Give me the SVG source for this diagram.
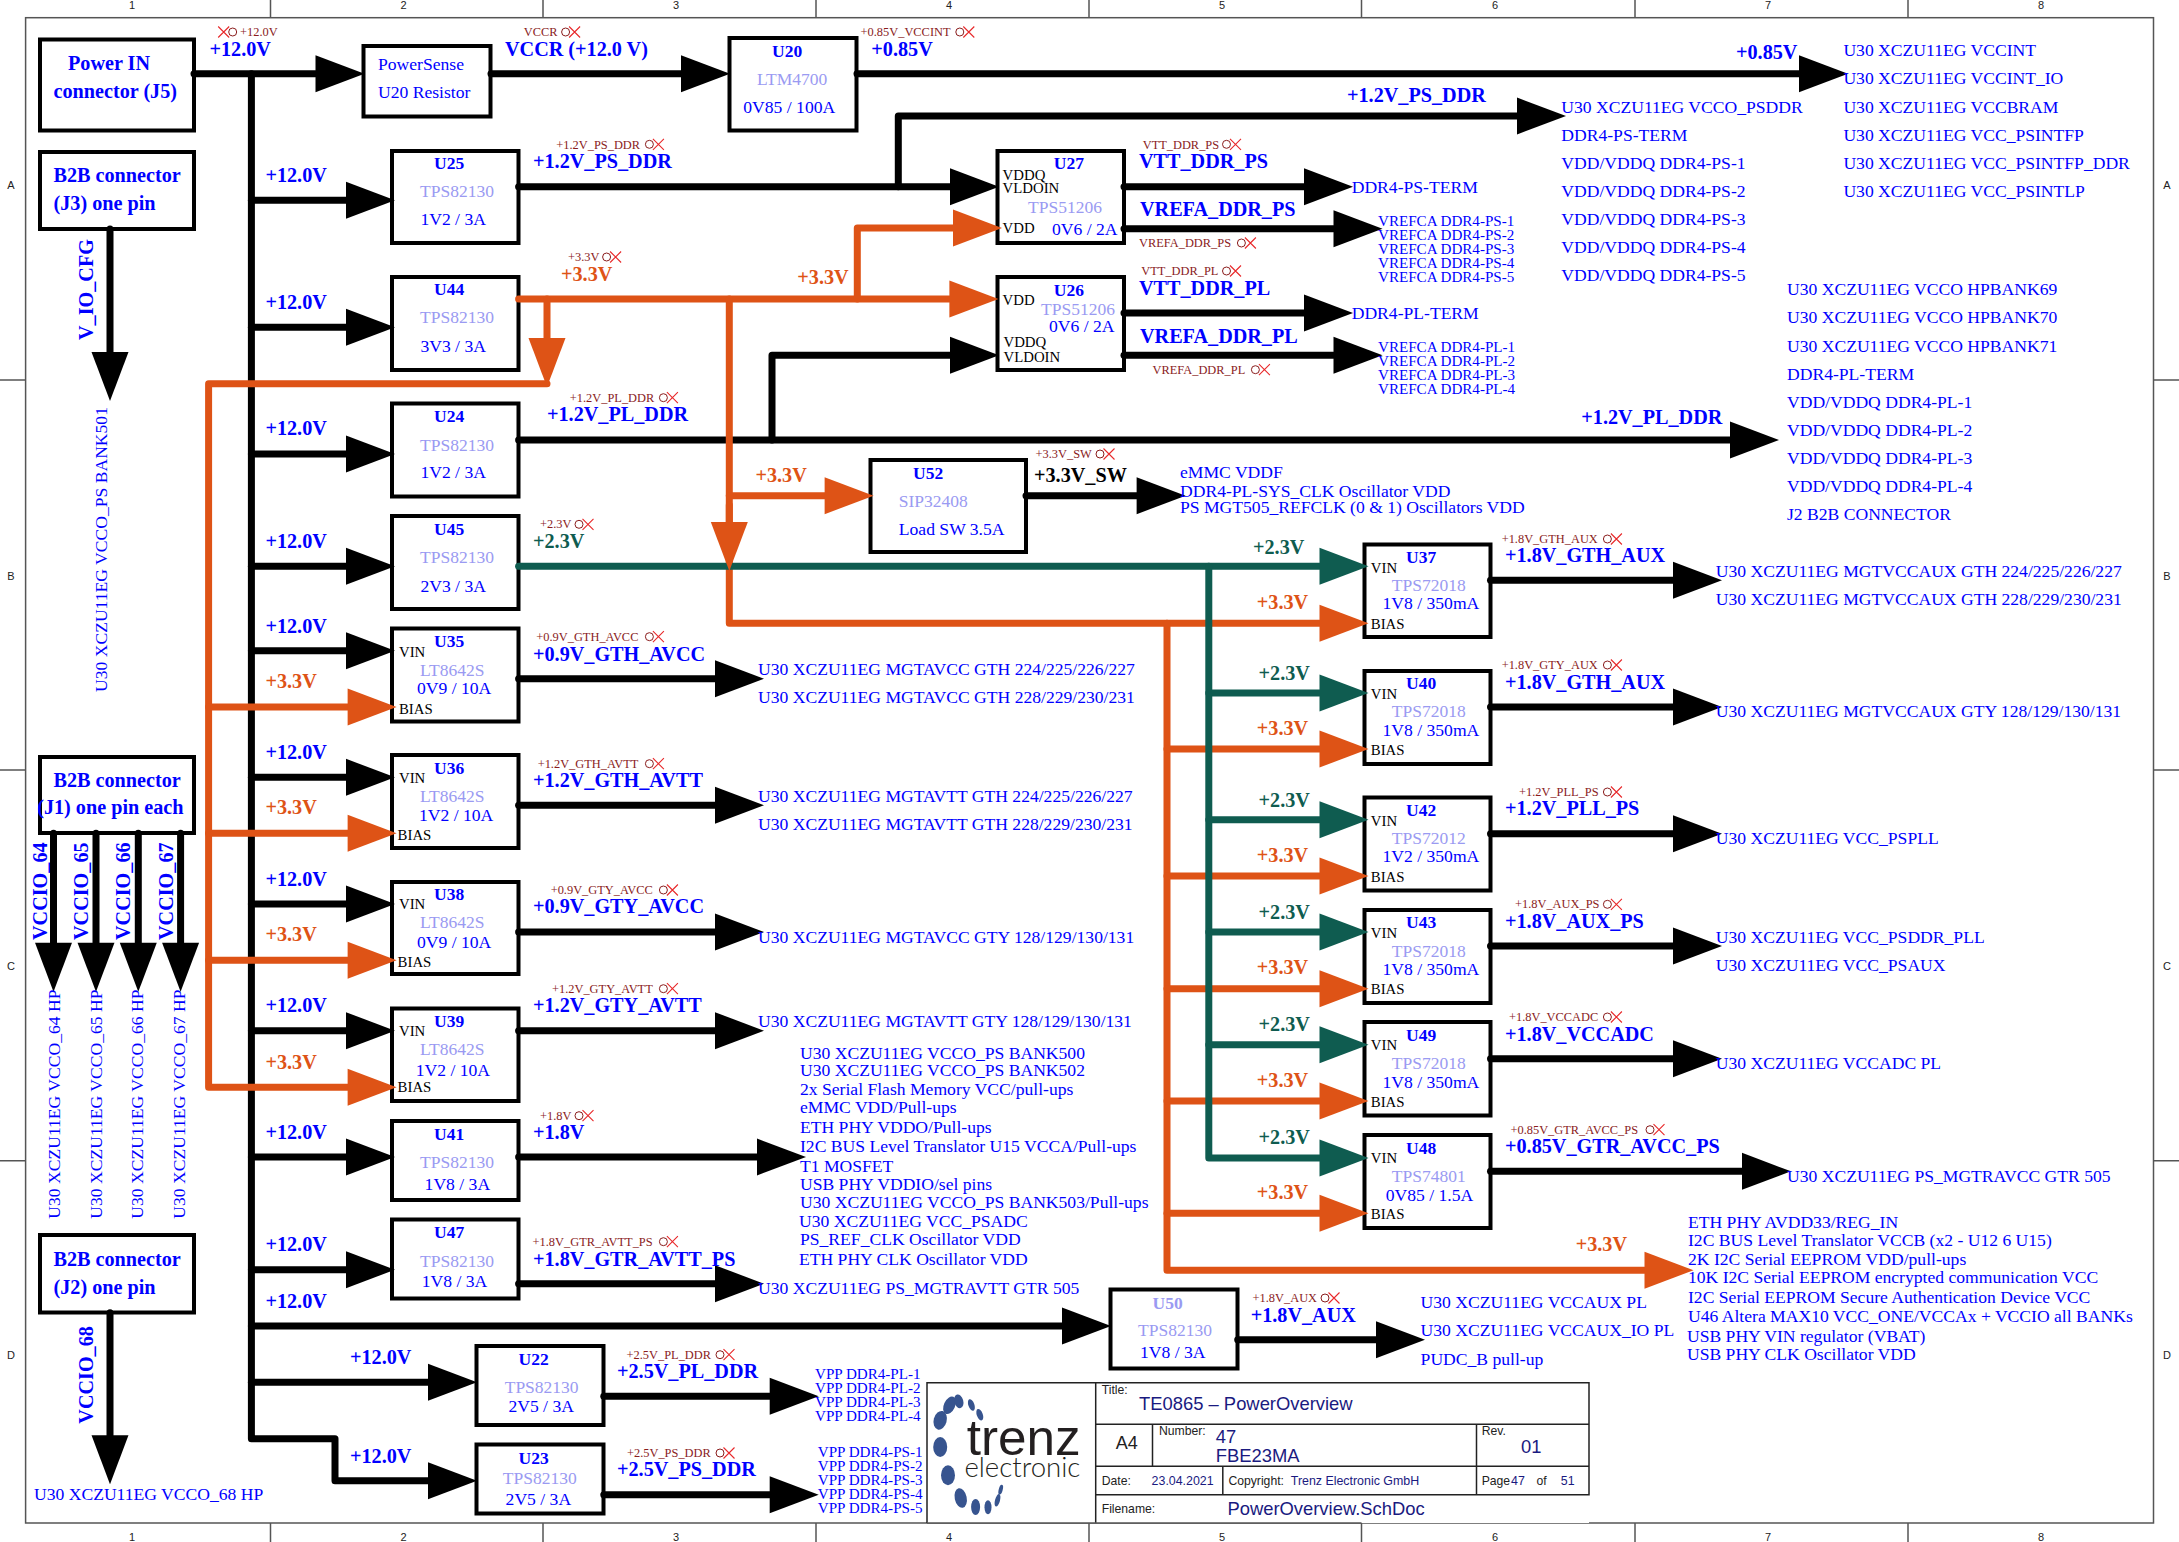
<svg xmlns="http://www.w3.org/2000/svg" xmlns:xlink="http://www.w3.org/1999/xlink" width="2179" height="1542" viewBox="0 0 2179 1542">
<style>
text{font-family:"Liberation Serif",serif;white-space:pre}
.box{fill:#fff;stroke:#000;stroke-width:4}
.h{font-size:20.2px;font-weight:bold;fill:#00f}
.or{fill:#de5316}
.gr{fill:#0f5c50}
.bk{fill:#000}
.id{font-size:17.5px;font-weight:bold;fill:#00f}
.pn{font-size:17.5px;fill:#9a9af2}
.lt{fill:#9a9af2}
.t{font-size:17.6px;fill:#00f}
.s{font-size:15.1px;fill:#00f}
.pin{font-size:14.8px;fill:#000}
.red{font-size:12.4px;fill:#8a1c1c}
.w{fill:none;stroke-width:7;stroke-linecap:round;stroke-linejoin:round}
.wb{stroke:#000}
.wo{stroke:#de5316}
.wg{stroke:#0f5c50}
.fr{fill:none;stroke:#555;stroke-width:1.5}
.tb{fill:none;stroke:#222;stroke-width:1.5}
.sn{font-family:"Liberation Sans",sans-serif;font-size:12.2px;fill:#222}
.nv{font-family:"Liberation Sans",sans-serif;font-size:12.4px;fill:#1a1a80}
.nl{font-family:"Liberation Sans",sans-serif;font-size:18.4px;fill:#1a1a80}
.tk{font-family:"Liberation Sans",sans-serif;font-size:11px;fill:#222;text-anchor:middle}
.dot{fill:#37548f}
</style>
<defs>
<marker id="ab" markerUnits="userSpaceOnUse" markerWidth="50" markerHeight="38" viewBox="0 0 49 38" refX="0" refY="19" orient="auto"><path d="M0 .5L49 19L0 37.5Z" fill="#000"/></marker>
<marker id="ao" markerUnits="userSpaceOnUse" markerWidth="50" markerHeight="38" viewBox="0 0 49 38" refX="0" refY="19" orient="auto"><path d="M0 .5L49 19L0 37.5Z" fill="#de5316"/></marker>
<marker id="ag" markerUnits="userSpaceOnUse" markerWidth="50" markerHeight="38" viewBox="0 0 49 38" refX="0" refY="19" orient="auto"><path d="M0 .5L49 19L0 37.5Z" fill="#0f5c50"/></marker>
<g id="nc"><circle cx="0" cy="0" r="4" fill="none" stroke="#8a1c1c" stroke-width="1"/><path d="M3.5-5.5L14.5 5.5M3.5 5.5L14.5-5.5" stroke="#e8282a" stroke-width="1.1" fill="none"/></g>
</defs>
<rect width="2179" height="1542" fill="#fff"/>

<g id="frame">
<rect class="fr" x="25.6" y="17.7" width="2127.9" height="1505.3"/>
<path class="fr" d="M270.5 0V17.7M543 0V17.7M816 0V17.7M1089 0V17.7M1361.5 0V17.7M1635 0V17.7M1908 0V17.7M270.5 1523V1542M543 1523V1542M816 1523V1542M1089 1523V1542M1361.5 1523V1542M1635 1523V1542M1908 1523V1542M0 380H25.6M0 770H25.6M0 1160.7H25.6M2153.5 380H2179M2153.5 770H2179M2153.5 1160.7H2179"/>
<text class="tk" x="132" y="8.5">1</text><text class="tk" x="403.6" y="8.5">2</text><text class="tk" x="676" y="8.5">3</text><text class="tk" x="949" y="8.5">4</text><text class="tk" x="1222" y="8.5">5</text><text class="tk" x="1495" y="8.5">6</text><text class="tk" x="1768" y="8.5">7</text><text class="tk" x="2041" y="8.5">8</text>
<text class="tk" x="132" y="1541">1</text><text class="tk" x="403.6" y="1541">2</text><text class="tk" x="676" y="1541">3</text><text class="tk" x="949" y="1541">4</text><text class="tk" x="1222" y="1541">5</text><text class="tk" x="1495" y="1541">6</text><text class="tk" x="1768" y="1541">7</text><text class="tk" x="2041" y="1541">8</text>
<text class="tk" x="11" y="189">A</text><text class="tk" x="11" y="580">B</text><text class="tk" x="11" y="970">C</text><text class="tk" x="11" y="1359">D</text>
<text class="tk" x="2167" y="189">A</text><text class="tk" x="2167" y="580">B</text><text class="tk" x="2167" y="970">C</text><text class="tk" x="2167" y="1359">D</text>
</g>

<g id="J5"><rect class="box" x="40" y="39.5" width="154" height="91"/><text class="h" x="68" y="70">Power IN</text><text class="h" x="53.5" y="98">connector (J5)</text></g>
<g id="J3"><rect class="box" x="40" y="152" width="154" height="77"/><text class="h" x="53.5" y="181.7">B2B connector</text><text class="h" x="53.5" y="210">(J3) one pin</text></g>
<g id="J1"><rect class="box" x="40" y="757" width="154" height="76"/><text class="h" x="53.5" y="786.7">B2B connector</text><text class="h" x="37.2" y="814">(J1) one pin each</text></g>
<g id="J2"><rect class="box" x="40" y="1235" width="154" height="77.5"/><text class="h" x="53.5" y="1266.3">B2B connector</text><text class="h" x="53.5" y="1294.3">(J2) one pin</text></g>
<g id="PowerSense"><rect class="box" x="363.5" y="46" width="127" height="70.5"/><text class="t" x="378" y="70">PowerSense</text><text class="t" x="378" y="98.3">U20 Resistor</text></g>
<g id="U20"><rect class="box" x="729.5" y="38" width="127" height="92.5"/><text class="id" x="772" y="56.7">U20</text><text class="pn" x="757" y="84.7">LTM4700</text><text class="t" x="743.3" y="113.3">0V85 / 100A</text></g>
<g id="U25"><rect class="box" x="392" y="151" width="126.5" height="92"/><text class="id" x="434" y="169.3">U25</text><text class="pn" x="420" y="197.3">TPS82130</text><text class="t" x="420.4" y="225.3">1V2 / 3A</text></g>
<g id="U44"><rect class="box" x="392" y="277" width="126.5" height="93"/><text class="id" x="434" y="295">U44</text><text class="pn" x="420" y="323.3">TPS82130</text><text class="t" x="420.4" y="352.3">3V3 / 3A</text></g>
<g id="U24"><rect class="box" x="392" y="403.5" width="126.5" height="93"/><text class="id" x="434" y="422">U24</text><text class="pn" x="420" y="450.7">TPS82130</text><text class="t" x="420.4" y="478.3">1V2 / 3A</text></g>
<g id="U45"><rect class="box" x="392" y="516" width="126.5" height="93"/><text class="id" x="434" y="535.3">U45</text><text class="pn" x="420" y="563.3">TPS82130</text><text class="t" x="420.4" y="591.7">2V3 / 3A</text></g>
<g id="U35"><rect class="box" x="392" y="628.5" width="126.5" height="93"/><text class="id" x="434" y="647">U35</text><text class="pin" x="399" y="656.7">VIN</text><text class="pn" x="420" y="675.7">LT8642S</text><text class="t" x="417" y="694.3">0V9 / 10A</text><text class="pin" x="399" y="713.7">BIAS</text></g>
<g id="U36"><rect class="box" x="392" y="755" width="126.5" height="93"/><text class="id" x="434" y="774">U36</text><text class="pin" x="399" y="783.3">VIN</text><text class="pn" x="420" y="802.3">LT8642S</text><text class="t" x="419" y="821">1V2 / 10A</text><text class="pin" x="397.6" y="839.7">BIAS</text></g>
<g id="U38"><rect class="box" x="392" y="882" width="126.5" height="92"/><text class="id" x="434" y="900.3">U38</text><text class="pin" x="399" y="909.3">VIN</text><text class="pn" x="420" y="928.3">LT8642S</text><text class="t" x="417" y="948">0V9 / 10A</text><text class="pin" x="397.6" y="966.7">BIAS</text></g>
<g id="U39"><rect class="box" x="392" y="1008.5" width="126.5" height="92.5"/><text class="id" x="434" y="1026.7">U39</text><text class="pin" x="399" y="1036">VIN</text><text class="pn" x="420" y="1055.3">LT8642S</text><text class="t" x="415.7" y="1076.3">1V2 / 10A</text><text class="pin" x="397.6" y="1092.3">BIAS</text></g>
<g id="U41"><rect class="box" x="392" y="1121" width="126.5" height="79"/><text class="id" x="434" y="1140.3">U41</text><text class="pn" x="420" y="1168.3">TPS82130</text><text class="t" x="424.6" y="1190.3">1V8 / 3A</text></g>
<g id="U47"><rect class="box" x="392" y="1219.5" width="126.5" height="79"/><text class="id" x="434" y="1238.3">U47</text><text class="pn" x="420" y="1266.7">TPS82130</text><text class="t" x="421.8" y="1287.3">1V8 / 3A</text></g>
<g id="U22"><rect class="box" x="476.5" y="1346" width="127" height="79"/><text class="id" x="518.6" y="1365.3">U22</text><text class="pn" x="504.7" y="1393.3">TPS82130</text><text class="t" x="508.4" y="1412.3">2V5 / 3A</text></g>
<g id="U23"><rect class="box" x="476.5" y="1444.5" width="127" height="69"/><text class="id" x="518.6" y="1463.7">U23</text><text class="pn" x="502.8" y="1483.7">TPS82130</text><text class="t" x="505.6" y="1504.7">2V5 / 3A</text></g>
<g id="U50"><rect class="box" x="1110.5" y="1289.5" width="127" height="79"/><text class="id lt" style="fill:#9a9af2" x="1152.5" y="1308.7">U50</text><text class="pn" x="1138" y="1336.3">TPS82130</text><text class="t" x="1140" y="1358.3">1V8 / 3A</text></g>
<g id="U27"><rect class="box" x="997.5" y="151" width="126.5" height="92"/><text class="id" x="1053.8" y="169.3">U27</text><text class="pin" x="1002.6" y="179.7">VDDQ</text><text class="pin" x="1002.6" y="193.3">VLDOIN</text><text class="pn" x="1028" y="213.3">TPS51206</text><text class="pin" x="1002.6" y="233.3">VDD</text><text class="t" x="1052" y="234.7">0V6 / 2A</text></g>
<g id="U26"><rect class="box" x="997.5" y="277" width="126.5" height="93"/><text class="id" x="1053.8" y="295.7">U26</text><text class="pin" x="1002.6" y="305">VDD</text><text class="pn" x="1041" y="315.3">TPS51206</text><text class="t" x="1049" y="332">0V6 / 2A</text><text class="pin" x="1003.5" y="347.3">VDDQ</text><text class="pin" x="1003.5" y="361.7">VLDOIN</text></g>
<g id="U52"><rect class="box" x="870.5" y="460" width="155.5" height="92"/><text class="id" x="913" y="478.7">U52</text><text class="pn" x="898.8" y="506.7">SIP32408</text><text class="t" x="898.8" y="535">Load SW 3.5A</text></g>
<g id="U37"><rect class="box" x="1364.5" y="544.5" width="126" height="92.5"/><text class="id" x="1406" y="563">U37</text><text class="pin" x="1370.8" y="572.7">VIN</text><text class="pn" x="1391.8" y="591.3">TPS72018</text><text class="t" x="1382.5" y="609.3">1V8 / 350mA</text><text class="pin" x="1370.8" y="628.7">BIAS</text></g>
<g id="U40"><rect class="box" x="1364.5" y="671" width="126" height="93"/><text class="id" x="1406" y="689.3">U40</text><text class="pin" x="1370.8" y="698.7">VIN</text><text class="pn" x="1391.8" y="717.3">TPS72018</text><text class="t" x="1382.5" y="736.3">1V8 / 350mA</text><text class="pin" x="1370.8" y="755.3">BIAS</text></g>
<g id="U42"><rect class="box" x="1364.5" y="797.5" width="126" height="93"/><text class="id" x="1406" y="816">U42</text><text class="pin" x="1370.8" y="825.7">VIN</text><text class="pn" x="1391.8" y="844.3">TPS72012</text><text class="t" x="1382.5" y="862.3">1V2 / 350mA</text><text class="pin" x="1370.8" y="881.7">BIAS</text></g>
<g id="U43"><rect class="box" x="1364.5" y="910" width="126" height="93"/><text class="id" x="1406" y="928.3">U43</text><text class="pin" x="1370.8" y="938">VIN</text><text class="pn" x="1391.8" y="957">TPS72018</text><text class="t" x="1382.5" y="975.3">1V8 / 350mA</text><text class="pin" x="1370.8" y="994.3">BIAS</text></g>
<g id="U49"><rect class="box" x="1364.5" y="1022" width="126" height="93.5"/><text class="id" x="1406" y="1041">U49</text><text class="pin" x="1370.8" y="1050.3">VIN</text><text class="pn" x="1391.8" y="1069.3">TPS72018</text><text class="t" x="1382.5" y="1088">1V8 / 350mA</text><text class="pin" x="1370.8" y="1106.7">BIAS</text></g>
<g id="U48"><rect class="box" x="1364.5" y="1135" width="126" height="93"/><text class="id" x="1406" y="1154.3">U48</text><text class="pin" x="1370.8" y="1163.3">VIN</text><text class="pn" x="1391.8" y="1182.3">TPS74801</text><text class="t" x="1385.7" y="1201">0V85 / 1.5A</text><text class="pin" x="1370.8" y="1219.3">BIAS</text></g>

<g id="connectors">
<g class="w wb">
<path d="M251.4 73.7V1438.7H335V1480.7H428" marker-end="url(#ab)"/>
<path d="M194 73.7H315.5" marker-end="url(#ab)"/>
<path d="M491 73.7H681" marker-end="url(#ab)"/>
<path d="M857 73.7H1799" marker-end="url(#ab)"/>
<path d="M251.4 200.3H346" marker-end="url(#ab)"/>
<path d="M251.4 327.3H346" marker-end="url(#ab)"/>
<path d="M251.4 454H346" marker-end="url(#ab)"/>
<path d="M251.4 566.3H346" marker-end="url(#ab)"/>
<path d="M251.4 650.7H346" marker-end="url(#ab)"/>
<path d="M251.4 777.3H346" marker-end="url(#ab)"/>
<path d="M251.4 904H346" marker-end="url(#ab)"/>
<path d="M251.4 1030.7H346" marker-end="url(#ab)"/>
<path d="M251.4 1157H346" marker-end="url(#ab)"/>
<path d="M251.4 1269.7H346" marker-end="url(#ab)"/>
<path d="M251.4 1326H1062" marker-end="url(#ab)"/>
<path d="M251.4 1382.3H428" marker-end="url(#ab)"/>
<path d="M518.6 186.7H950" marker-end="url(#ab)"/>
<path d="M898.3 186.7V116H1517" marker-end="url(#ab)"/>
<path d="M518.6 440H1730" marker-end="url(#ab)"/>
<path d="M772 440V355.3H950" marker-end="url(#ab)"/>
<path d="M1124 186.7H1304" marker-end="url(#ab)"/>
<path d="M1124 228.7H1333.5" marker-end="url(#ab)"/>
<path d="M1124 313H1304" marker-end="url(#ab)"/>
<path d="M1124 355.3H1333.5" marker-end="url(#ab)"/>
<path d="M1026 495.7H1136.6" marker-end="url(#ab)"/>
<path d="M518.6 678.7H715" marker-end="url(#ab)"/>
<path d="M518.6 805.3H715" marker-end="url(#ab)"/>
<path d="M518.6 932H715" marker-end="url(#ab)"/>
<path d="M518.6 1030.7H715" marker-end="url(#ab)"/>
<path d="M518.6 1157H757" marker-end="url(#ab)"/>
<path d="M518.6 1283.7H715" marker-end="url(#ab)"/>
<path d="M603.8 1396.3H769.7" marker-end="url(#ab)"/>
<path d="M603.8 1494.7H769.7" marker-end="url(#ab)"/>
<path d="M1237.7 1339.7H1376" marker-end="url(#ab)"/>
<path d="M1490.5 580.3H1673" marker-end="url(#ab)"/>
<path d="M1490.5 707H1673" marker-end="url(#ab)"/>
<path d="M1490.5 833.7H1673" marker-end="url(#ab)"/>
<path d="M1490.5 946H1673" marker-end="url(#ab)"/>
<path d="M1490.5 1058.7H1673" marker-end="url(#ab)"/>
<path d="M1490.5 1171.3H1742" marker-end="url(#ab)"/>
<path d="M110 229V352" marker-end="url(#ab)"/>
<path d="M53.5 833.3V942.7" marker-end="url(#ab)"/>
<path d="M96 833.3V942.7" marker-end="url(#ab)"/>
<path d="M138.3 833.3V942.7" marker-end="url(#ab)"/>
<path d="M180.6 833.3V942.7" marker-end="url(#ab)"/>
<path d="M110 1312.7V1435.3" marker-end="url(#ab)"/>
</g>
<g class="w wo">
<path d="M518.6 299H949.4" marker-end="url(#ao)"/>
<path d="M547 299V338" marker-end="url(#ao)"/>
<path d="M857.3 299V228H953" marker-end="url(#ao)"/>
<path d="M729.3 299V623.3H1319.5" marker-end="url(#ao)"/>
<path d="M547 383.7H208.6V1087.3H347.6" marker-end="url(#ao)"/>
<path d="M208.6 707H347.6" marker-end="url(#ao)"/>
<path d="M208.6 833.3H347.6" marker-end="url(#ao)"/>
<path d="M208.6 960.3H347.6" marker-end="url(#ao)"/>
<path d="M729.3 495.7H824.6" marker-end="url(#ao)"/>
<path d="M1167 623.3V1270.3H1644.5" marker-end="url(#ao)"/>
<path d="M1167 749H1319.5" marker-end="url(#ao)"/>
<path d="M1167 876H1319.5" marker-end="url(#ao)"/>
<path d="M1167 988.7H1319.5" marker-end="url(#ao)"/>
<path d="M1167 1101H1319.5" marker-end="url(#ao)"/>
<path d="M1167 1213.3H1319.5" marker-end="url(#ao)"/>
</g>
<g class="w wg">
<path d="M518.6 566.3H1319.5" marker-end="url(#ag)"/>
<path d="M1208.8 566.3V1158H1319.5" marker-end="url(#ag)"/>
<path d="M1208.8 693H1319.5" marker-end="url(#ag)"/>
<path d="M1208.8 819.7H1319.5" marker-end="url(#ag)"/>
<path d="M1208.8 932H1319.5" marker-end="url(#ag)"/>
<path d="M1208.8 1044.7H1319.5" marker-end="url(#ag)"/>
</g>
<path class="w wo" d="M729.3 505V522" marker-end="url(#ao)"/>
</g>

<g id="net-labels">
<text class="h" x="209.5" y="56">+12.0V</text>
<text class="h" x="505" y="56">VCCR (+12.0 V)</text>
<text class="h" x="871.3" y="56">+0.85V</text>
<text class="h" x="1736" y="59">+0.85V</text>
<text class="h" x="1347" y="101.7">+1.2V_PS_DDR</text>
<text class="h" x="533" y="167.7">+1.2V_PS_DDR</text>
<text class="h or" x="561" y="281">+3.3V</text>
<text class="h" x="547" y="421">+1.2V_PL_DDR</text>
<text class="h" x="265.4" y="181.7">+12.0V</text>
<text class="h" x="265.4" y="308.7">+12.0V</text>
<text class="h" x="265.4" y="435.3">+12.0V</text>
<text class="h" x="265.4" y="547.7">+12.0V</text>
<text class="h" x="265.4" y="633">+12.0V</text>
<text class="h" x="265.4" y="759">+12.0V</text>
<text class="h" x="265.4" y="885.7">+12.0V</text>
<text class="h" x="265.4" y="1011.7">+12.0V</text>
<text class="h" x="265.4" y="1138.7">+12.0V</text>
<text class="h" x="265.4" y="1251">+12.0V</text>
<text class="h" x="265.4" y="1307.7">+12.0V</text>
<text class="h" x="350" y="1363.7">+12.0V</text>
<text class="h" x="350" y="1462.7">+12.0V</text>
<text class="h or" x="265.4" y="688.3">+3.3V</text>
<text class="h or" x="265.4" y="814.3">+3.3V</text>
<text class="h or" x="265.4" y="941">+3.3V</text>
<text class="h or" x="265.4" y="1068.7">+3.3V</text>
<text class="h or" x="797.3" y="284.3">+3.3V</text>
<text class="h or" x="755.4" y="481.7">+3.3V</text>
<text class="h gr" x="533" y="547.7">+2.3V</text>
<text class="h gr" x="1253" y="553.7">+2.3V</text>
<text class="h or" x="1256.8" y="608.7">+3.3V</text>
<text class="h gr" x="1258.6" y="679.7">+2.3V</text>
<text class="h or" x="1256.8" y="735">+3.3V</text>
<text class="h gr" x="1258.6" y="806.7">+2.3V</text>
<text class="h or" x="1256.8" y="861.7">+3.3V</text>
<text class="h gr" x="1258.6" y="919.3">+2.3V</text>
<text class="h or" x="1256.8" y="973.7">+3.3V</text>
<text class="h gr" x="1258.6" y="1030.7">+2.3V</text>
<text class="h or" x="1256.8" y="1087">+3.3V</text>
<text class="h gr" x="1258.6" y="1143.7">+2.3V</text>
<text class="h or" x="1256.8" y="1199">+3.3V</text>
<text class="h or" x="1575.7" y="1250.7">+3.3V</text>
<text class="h" x="533" y="660.7">+0.9V_GTH_AVCC</text>
<text class="h" x="533" y="786.7">+1.2V_GTH_AVTT</text>
<text class="h" x="533" y="913.3">+0.9V_GTY_AVCC</text>
<text class="h" x="533" y="1011.7">+1.2V_GTY_AVTT</text>
<text class="h" x="533" y="1138.7">+1.8V</text>
<text class="h" x="533" y="1266">+1.8V_GTR_AVTT_PS</text>
<text class="h" x="617" y="1377.7">+2.5V_PL_DDR</text>
<text class="h" x="617" y="1476">+2.5V_PS_DDR</text>
<text class="h" x="1250.7" y="1322">+1.8V_AUX</text>
<text class="h" x="1139" y="167.7">VTT_DDR_PS</text>
<text class="h" x="1140" y="216">VREFA_DDR_PS</text>
<text class="h" x="1139" y="295">VTT_DDR_PL</text>
<text class="h" x="1140" y="342.7">VREFA_DDR_PL</text>
<text class="h bk" x="1034" y="481.7">+3.3V_SW</text>
<text class="h" x="1581.3" y="423.7">+1.2V_PL_DDR</text>
<text class="h" x="1505" y="561.7">+1.8V_GTH_AUX</text>
<text class="h" x="1505" y="689">+1.8V_GTH_AUX</text>
<text class="h" x="1505" y="815">+1.2V_PLL_PS</text>
<text class="h" x="1505" y="927.7">+1.8V_AUX_PS</text>
<text class="h" x="1505" y="1041">+1.8V_VCCADC</text>
<text class="h" x="1505" y="1153">+0.85V_GTR_AVCC_PS</text>
<text class="h" transform="translate(93 340) rotate(-90)">V_IO_CFG</text>
<text class="h" transform="translate(46.5 940) rotate(-90)">VCCIO_64</text>
<text class="h" transform="translate(87.5 940) rotate(-90)">VCCIO_65</text>
<text class="h" transform="translate(130.4 940) rotate(-90)">VCCIO_66</text>
<text class="h" transform="translate(172.7 940) rotate(-90)">VCCIO_67</text>
<text class="h" transform="translate(93 1423.7) rotate(-90)">VCCIO_68</text>
</g>

<g id="net-flags">
<text class="red" x="240" y="36">+12.0V</text><use xlink:href="#nc" href="#nc" transform="translate(232.7 32) scale(-1 1)"/>
<text class="red" x="523.7" y="36">VCCR</text><use xlink:href="#nc" href="#nc" x="565.6" y="32"/>
<text class="red" x="860.6" y="36">+0.85V_VCCINT</text><use xlink:href="#nc" href="#nc" x="959.8" y="32"/>
<text class="red" x="556.3" y="148.7">+1.2V_PS_DDR</text><use xlink:href="#nc" href="#nc" x="649.4" y="144.3"/>
<text class="red" x="568" y="261">+3.3V</text><use xlink:href="#nc" href="#nc" x="606.6" y="257"/>
<text class="red" x="569.8" y="402">+1.2V_PL_DDR</text><use xlink:href="#nc" href="#nc" x="663.4" y="397.7"/>
<text class="red" x="540" y="528">+2.3V</text><use xlink:href="#nc" href="#nc" x="579" y="524.3"/>
<text class="red" x="536.3" y="640.7">+0.9V_GTH_AVCC</text><use xlink:href="#nc" href="#nc" x="649.4" y="636.7"/>
<text class="red" x="537.7" y="767.7">+1.2V_GTH_AVTT</text><use xlink:href="#nc" href="#nc" x="649.4" y="763.7"/>
<text class="red" x="550.7" y="894">+0.9V_GTY_AVCC</text><use xlink:href="#nc" href="#nc" x="663.4" y="890"/>
<text class="red" x="552" y="992.7">+1.2V_GTY_AVTT</text><use xlink:href="#nc" href="#nc" x="663.4" y="988.7"/>
<text class="red" x="540" y="1119.7">+1.8V</text><use xlink:href="#nc" href="#nc" x="579" y="1115.7"/>
<text class="red" x="532.6" y="1245.7">+1.8V_GTR_AVTT_PS</text><use xlink:href="#nc" href="#nc" x="663.4" y="1241.7"/>
<text class="red" x="626.6" y="1358.7">+2.5V_PL_DDR</text><use xlink:href="#nc" href="#nc" x="720" y="1354.7"/>
<text class="red" x="627" y="1457">+2.5V_PS_DDR</text><use xlink:href="#nc" href="#nc" x="720" y="1453"/>
<text class="red" x="1252.6" y="1302">+1.8V_AUX</text><use xlink:href="#nc" href="#nc" x="1325" y="1298"/>
<text class="red" x="1142.7" y="148.7">VTT_DDR_PS</text><use xlink:href="#nc" href="#nc" x="1226.5" y="144.3"/>
<text class="red" x="1139" y="247">VREFA_DDR_PS</text><use xlink:href="#nc" href="#nc" x="1241.4" y="243"/>
<text class="red" x="1141.3" y="275">VTT_DDR_PL</text><use xlink:href="#nc" href="#nc" x="1226.5" y="271"/>
<text class="red" x="1152.5" y="373.7">VREFA_DDR_PL</text><use xlink:href="#nc" href="#nc" x="1255.4" y="369.7"/>
<text class="red" x="1035.6" y="457.7">+3.3V_SW</text><use xlink:href="#nc" href="#nc" x="1100" y="454"/>
<text class="red" x="1501.7" y="543">+1.8V_GTH_AUX</text><use xlink:href="#nc" href="#nc" x="1607.4" y="539"/>
<text class="red" x="1501.7" y="669">+1.8V_GTY_AUX</text><use xlink:href="#nc" href="#nc" x="1607.4" y="665"/>
<text class="red" x="1519" y="796">+1.2V_PLL_PS</text><use xlink:href="#nc" href="#nc" x="1607.4" y="792"/>
<text class="red" x="1515" y="908.3">+1.8V_AUX_PS</text><use xlink:href="#nc" href="#nc" x="1607.4" y="904.3"/>
<text class="red" x="1509" y="1021">+1.8V_VCCADC</text><use xlink:href="#nc" href="#nc" x="1607.4" y="1017"/>
<text class="red" x="1510.5" y="1133.7">+0.85V_GTR_AVCC_PS</text><use xlink:href="#nc" href="#nc" x="1650" y="1129.7"/>
</g>

<g id="targets">
<text class="t" x="1843.4" y="56">U30 XCZU11EG VCCINT</text>
<text class="t" x="1843.4" y="84">U30 XCZU11EG VCCINT_IO</text>
<text class="t" x="1843.4" y="113">U30 XCZU11EG VCCBRAM</text>
<text class="t" x="1843.4" y="141">U30 XCZU11EG VCC_PSINTFP</text>
<text class="t" x="1843.4" y="169">U30 XCZU11EG VCC_PSINTFP_DDR</text>
<text class="t" x="1843.4" y="197">U30 XCZU11EG VCC_PSINTLP</text>
<text class="t" x="1561.3" y="113">U30 XCZU11EG VCCO_PSDDR</text>
<text class="t" x="1561.3" y="141">DDR4-PS-TERM</text>
<text class="t" x="1561.3" y="169">VDD/VDDQ DDR4-PS-1</text>
<text class="t" x="1561.3" y="197">VDD/VDDQ DDR4-PS-2</text>
<text class="t" x="1561.3" y="225">VDD/VDDQ DDR4-PS-3</text>
<text class="t" x="1561.3" y="253">VDD/VDDQ DDR4-PS-4</text>
<text class="t" x="1561.3" y="281">VDD/VDDQ DDR4-PS-5</text>
<text class="t" x="1787" y="295">U30 XCZU11EG VCCO HPBANK69</text>
<text class="t" x="1787" y="323">U30 XCZU11EG VCCO HPBANK70</text>
<text class="t" x="1787" y="352.3">U30 XCZU11EG VCCO HPBANK71</text>
<text class="t" x="1787" y="380">DDR4-PL-TERM</text>
<text class="t" x="1787" y="408">VDD/VDDQ DDR4-PL-1</text>
<text class="t" x="1787" y="436">VDD/VDDQ DDR4-PL-2</text>
<text class="t" x="1787" y="464">VDD/VDDQ DDR4-PL-3</text>
<text class="t" x="1787" y="492">VDD/VDDQ DDR4-PL-4</text>
<text class="t" x="1787" y="520">J2 B2B CONNECTOR</text>
<text class="t" x="1351.7" y="193">DDR4-PS-TERM</text>
<text class="t" x="1351.7" y="319">DDR4-PL-TERM</text>
<text class="s" x="1378" y="226">VREFCA DDR4-PS-1</text>
<text class="s" x="1378" y="240">VREFCA DDR4-PS-2</text>
<text class="s" x="1378" y="254">VREFCA DDR4-PS-3</text>
<text class="s" x="1378" y="268">VREFCA DDR4-PS-4</text>
<text class="s" x="1378" y="282">VREFCA DDR4-PS-5</text>
<text class="s" x="1378" y="352">VREFCA DDR4-PL-1</text>
<text class="s" x="1378" y="366">VREFCA DDR4-PL-2</text>
<text class="s" x="1378" y="380">VREFCA DDR4-PL-3</text>
<text class="s" x="1378" y="394">VREFCA DDR4-PL-4</text>
<text class="t" x="1180" y="478">eMMC VDDF</text>
<text class="t" x="1180" y="497">DDR4-PL-SYS_CLK Oscillator VDD</text>
<text class="t" x="1180" y="513">PS MGT505_REFCLK (0 &amp; 1) Oscillators VDD</text>
<text class="t" x="758" y="675">U30 XCZU11EG MGTAVCC GTH 224/225/226/227</text>
<text class="t" x="758" y="703">U30 XCZU11EG MGTAVCC GTH 228/229/230/231</text>
<text class="t" x="758" y="802">U30 XCZU11EG MGTAVTT GTH 224/225/226/227</text>
<text class="t" x="758" y="830">U30 XCZU11EG MGTAVTT GTH 228/229/230/231</text>
<text class="t" x="758" y="942.7">U30 XCZU11EG MGTAVCC GTY 128/129/130/131</text>
<text class="t" x="758" y="1026.7">U30 XCZU11EG MGTAVTT GTY 128/129/130/131</text>
<text class="t" x="800" y="1058.7">U30 XCZU11EG VCCO_PS BANK500</text>
<text class="t" x="800" y="1076">U30 XCZU11EG VCCO_PS BANK502</text>
<text class="t" x="800" y="1095">2x Serial Flash Memory VCC/pull-ups</text>
<text class="t" x="800" y="1113">eMMC VDD/Pull-ups</text>
<text class="t" x="800" y="1133">ETH PHY VDDO/Pull-ups</text>
<text class="t" x="800" y="1152">I2C BUS Level Translator U15 VCCA/Pull-ups</text>
<text class="t" x="800" y="1172">T1 MOSFET</text>
<text class="t" x="800" y="1190">USB PHY VDDIO/sel pins</text>
<text class="t" x="800" y="1208">U30 XCZU11EG VCCO_PS BANK503/Pull-ups</text>
<text class="t" x="799" y="1227">U30 XCZU11EG VCC_PSADC</text>
<text class="t" x="800" y="1245">PS_REF_CLK Oscillator VDD</text>
<text class="t" x="799" y="1265">ETH PHY CLK Oscillator VDD</text>
<text class="t" x="758" y="1294">U30 XCZU11EG PS_MGTRAVTT GTR 505</text>
<text class="t" x="1420.6" y="1308">U30 XCZU11EG VCCAUX PL</text>
<text class="t" x="1420.6" y="1336">U30 XCZU11EG VCCAUX_IO PL</text>
<text class="t" x="1420.6" y="1365.3">PUDC_B pull-up</text>
<text class="s" x="815" y="1379">VPP DDR4-PL-1</text>
<text class="s" x="815" y="1393">VPP DDR4-PL-2</text>
<text class="s" x="815" y="1407">VPP DDR4-PL-3</text>
<text class="s" x="815" y="1421">VPP DDR4-PL-4</text>
<text class="s" x="817.8" y="1457">VPP DDR4-PS-1</text>
<text class="s" x="817.8" y="1471">VPP DDR4-PS-2</text>
<text class="s" x="817.8" y="1485">VPP DDR4-PS-3</text>
<text class="s" x="817.8" y="1499">VPP DDR4-PS-4</text>
<text class="s" x="817.8" y="1513">VPP DDR4-PS-5</text>
<text class="t" x="34" y="1500">U30 XCZU11EG VCCO_68 HP</text>
<text class="t" x="1715.8" y="577">U30 XCZU11EG MGTVCCAUX GTH 224/225/226/227</text>
<text class="t" x="1715.8" y="605">U30 XCZU11EG MGTVCCAUX GTH 228/229/230/231</text>
<text class="t" x="1715.8" y="717">U30 XCZU11EG MGTVCCAUX GTY 128/129/130/131</text>
<text class="t" x="1715.8" y="844">U30 XCZU11EG VCC_PSPLL</text>
<text class="t" x="1715.8" y="943">U30 XCZU11EG VCC_PSDDR_PLL</text>
<text class="t" x="1715.8" y="971">U30 XCZU11EG VCC_PSAUX</text>
<text class="t" x="1715.8" y="1069">U30 XCZU11EG VCCADC PL</text>
<text class="t" x="1787" y="1182">U30 XCZU11EG PS_MGTRAVCC GTR 505</text>
<text class="t" x="1688" y="1228">ETH PHY AVDD33/REG_IN</text>
<text class="t" x="1688" y="1246">I2C BUS Level Translator VCCB (x2 - U12 6 U15)</text>
<text class="t" x="1688" y="1265">2K I2C Serial EEPROM VDD/pull-ups</text>
<text class="t" x="1688" y="1283">10K I2C Serial EEPROM encrypted communication VCC</text>
<text class="t" x="1688" y="1303">I2C Serial EEPROM Secure Authentication Device VCC</text>
<text class="t" x="1688" y="1322">U46 Altera MAX10 VCC_ONE/VCCAx + VCCIO all BANKs</text>
<text class="t" x="1687" y="1342">USB PHY VIN regulator (VBAT)</text>
<text class="t" x="1687" y="1360">USB PHY CLK Oscillator VDD</text>
<text class="t" transform="translate(107 692) rotate(-90)">U30 XCZU11EG VCCO_PS BANK501</text>
<text class="t" transform="translate(59.6 1218.7) rotate(-90)">U30 XCZU11EG VCCO_64 HP</text>
<text class="t" transform="translate(101.5 1218.7) rotate(-90)">U30 XCZU11EG VCCO_65 HP</text>
<text class="t" transform="translate(143.4 1218.7) rotate(-90)">U30 XCZU11EG VCCO_66 HP</text>
<text class="t" transform="translate(185.3 1218.7) rotate(-90)">U30 XCZU11EG VCCO_67 HP</text>
</g>

<g id="title-block">
<rect x="927" y="1382.7" width="662" height="140.3" fill="#fff" stroke="none"/>
<path class="tb" d="M927 1523V1382.7H1589V1494.7H1095.7M1095.7 1382.7V1523M1095.7 1424.3H1589M1095.7 1466.3H1589M1152.5 1424.3V1466.3M1476.5 1424.3V1494.7M1222.8 1466.3V1494.7"/>
<path class="fr" d="M927 1523H1361.5"/>
<text class="sn" x="1101.7" y="1393.7">Title:</text>
<text class="nl" x="1139" y="1410.3">TE0865 – PowerOverview</text>
<text class="sn" style="font-size:18px" x="1115.7" y="1449.3">A4</text>
<text class="sn" x="1159" y="1435.3">Number:</text>
<text class="nl" x="1215.8" y="1442.7">47</text>
<text class="nl" x="1215.8" y="1462">FBE23MA</text>
<text class="sn" x="1481.7" y="1435.3">Rev.</text>
<text class="nl" x="1521" y="1453.3">01</text>
<text class="sn" x="1101.7" y="1485.3">Date:</text>
<text class="nv" x="1151.6" y="1485.3">23.04.2021</text>
<text class="sn" x="1228.4" y="1485.3">Copyright:</text>
<text class="nv" x="1290.8" y="1485.3">Trenz Electronic GmbH</text>
<text class="sn" x="1481.7" y="1485.3">Page</text>
<text class="nv" x="1511" y="1485.3">47</text>
<text class="sn" x="1536.6" y="1485.3">of</text>
<text class="nv" x="1560.8" y="1485.3">51</text>
<text class="sn" x="1101.7" y="1513">Filename:</text>
<text class="nl" x="1227.4" y="1514.7">PowerOverview.SchDoc</text>
<g id="logo">
<ellipse class="dot" cx="949.5" cy="1405.3" rx="5.6" ry="9.3" transform="rotate(25 949.5 1405.3)"/>
<ellipse class="dot" cx="958.8" cy="1401.3" rx="4.5" ry="7" transform="rotate(-15 958.8 1401.3)"/>
<ellipse class="dot" cx="971.4" cy="1405" rx="3" ry="6" transform="rotate(-20 971.4 1405)"/>
<ellipse class="dot" cx="979.8" cy="1414.7" rx="3" ry="6" transform="rotate(-20 979.8 1414.7)"/>
<ellipse class="dot" cx="940.2" cy="1420.3" rx="6.5" ry="9.5" transform="rotate(15 940.2 1420.3)"/>
<ellipse class="dot" cx="940.2" cy="1447" rx="7" ry="10"/>
<ellipse class="dot" cx="948" cy="1475.3" rx="7" ry="10"/>
<ellipse class="dot" cx="960.7" cy="1498" rx="6" ry="10" transform="rotate(-12 960.7 1498)"/>
<ellipse class="dot" cx="975.6" cy="1507" rx="4.5" ry="8"/>
<ellipse class="dot" cx="988" cy="1507.3" rx="3.5" ry="7"/>
<ellipse class="dot" cx="997.5" cy="1500.3" rx="2.5" ry="6.5" transform="rotate(15 997.5 1500.3)"/>
<ellipse class="dot" cx="1000.7" cy="1489.7" rx="2" ry="5" transform="rotate(15 1000.7 1489.7)"/>
<text x="966.7" y="1454.7" style="font-family:'Liberation Sans',sans-serif;font-size:50px;fill:#231f20" textLength="114" lengthAdjust="spacingAndGlyphs">trenz</text>
<text x="964.4" y="1477" style="font-family:'Lato','Liberation Sans',sans-serif;font-weight:300;font-size:27px;fill:#231f20" textLength="116" lengthAdjust="spacingAndGlyphs">electronic</text>
</g>
</g>
</svg>
